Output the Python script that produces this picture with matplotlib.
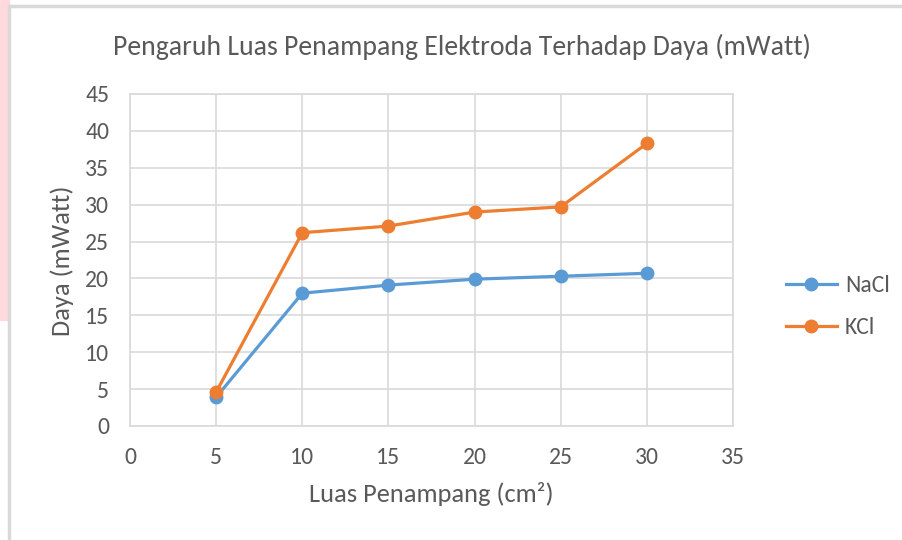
import matplotlib.pyplot as plt
from matplotlib.lines import Line2D
from matplotlib.patches import Rectangle

luas = [5, 10, 15, 20, 25, 30]
nacl = [3.9, 18.0, 19.1, 19.9, 20.3, 20.7]
kcl = [4.6, 26.2, 27.1, 29.0, 29.7, 38.3]

text_col = '#595959'
grid_col = '#d9d9d9'
plt.rcParams['font.family'] = ['Carlito', 'DejaVu Sans']

fig = plt.figure(figsize=(9.03, 5.40), dpi=100)
# pink strip and border from the screenshot
fig.patches.append(Rectangle((0, 1 - 320 / 540), 9 / 903, 320 / 540, transform=fig.transFigure,
                             color='#ffd9dd', zorder=0))
fig.add_artist(Line2D([9.5 / 903, 9.5 / 903], [0, 1 - 5.5 / 540], transform=fig.transFigure,
                      color='#d9d9d9', linewidth=2.5))
fig.add_artist(Line2D([9.5 / 903, 1], [1 - 5.5 / 540, 1 - 5.5 / 540], transform=fig.transFigure,
                      color='#d9d9d9', linewidth=2.5))

ax = fig.add_axes([130 / 903, 1 - 426 / 540, 603 / 903, 332 / 540])
ax.plot(luas, nacl, color='#5b9bd5', linewidth=2.3, marker='o', markersize=9, label='NaCl', zorder=3)
ax.plot(luas, kcl, color='#ed7d31', linewidth=2.3, marker='o', markersize=9, label='KCl', zorder=3)

ax.set_xlim(0, 35)
ax.set_ylim(0, 45)
ax.set_xticks(range(0, 36, 5))
ax.set_yticks(range(0, 46, 5))
ax.grid(True, color=grid_col, linewidth=1.2)
ax.set_axisbelow(True)
for s in ax.spines.values():
    s.set_color(grid_col)
    s.set_linewidth(1.2)
ax.tick_params(length=0, labelsize=17, colors=text_col)
ax.tick_params(axis='x', pad=15)
ax.tick_params(axis='y', pad=15)

fig.text(462 / 903, 1 - 47 / 540, 'Pengaruh Luas Penampang Elektroda Terhadap Daya (mWatt)',
         fontsize=20, color=text_col, ha='center', va='center')
fig.text(431 / 903, 1 - 494 / 540, 'Luas Penampang (cm²)', fontsize=19, color=text_col,
         ha='center', va='center')
fig.text(62 / 903, 1 - 261 / 540, 'Daya (mWatt)', fontsize=19, color=text_col,
         ha='center', va='center', rotation=90)

ax.legend(loc='center left', bbox_to_anchor=((786 - 130) / 603, 0.36), frameon=False, fontsize=17,
          labelcolor=text_col, handlelength=2.15, handletextpad=0.35, labelspacing=0.9,
          borderpad=0, borderaxespad=0)

plt.savefig('out.png', dpi=100)
